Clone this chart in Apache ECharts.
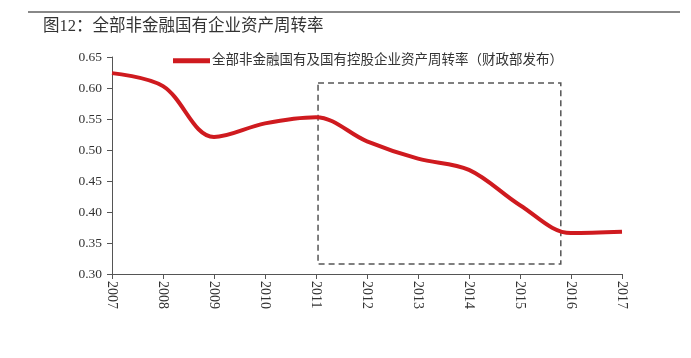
<!DOCTYPE html>
<html>
<head>
<meta charset="utf-8">
<script src="https://cdn.jsdelivr.net/npm/echarts@6/dist/echarts.min.js"></script>
<style>
html,body{margin:0;padding:0;background:#fff;}
#main{width:691px;height:358px;}
</style>
</head>
<body>
<div id="main"></div>
<script>
const years = [2007, 2008, 2009, 2010, 2011, 2012, 2013, 2014, 2015, 2016, 2017];
const turnover = [0.624, 0.603, 0.521, 0.543, 0.553, 0.514, 0.486, 0.468, 0.411, 0.366, 0.368];
const seriesName = '全部非金融国有及国有控股企业资产周转率（财政部发布）';
const titleText = '图12：全部非金融国有企业资产周转率';
const boxX = [2011.04, 2015.8];
const boxY = [0.608, 0.316];

const chart = echarts.init(document.getElementById('main'), null, {renderer: 'canvas'});
const serif = '"Liberation Serif", "DejaVu Serif", serif';
const cjk = '"Liberation Serif", "Noto Sans CJK SC", serif';
chart.setOption({
  backgroundColor: '#ffffff',
  animation: false,
  title: {
    text: titleText,
    left: 38, top: 13,
    textStyle: {fontSize: 16.5, fontWeight: 'normal', color: '#333', fontFamily: cjk}
  },
  graphic: [{
    type: 'line', shape: {x1: 28, y1: 12, x2: 680, y2: 12},
    style: {stroke: '#888', lineWidth: 2}
  }],
  legend: {
    left: 168, top: 49,
    icon: 'rect', itemWidth: 37, itemHeight: 5, itemGap: 2,
    textStyle: {fontSize: 13.5, color: '#333', fontFamily: cjk, padding: [0,0,0,-3]},
    data: [seriesName]
  },
  grid: {left: 112, right: 69, top: 57, bottom: 84},
  xAxis: {
    type: 'value', min: 2007, max: 2017, interval: 1,
    axisLine: {lineStyle: {color: '#555', width: 1}},
    axisTick: {show: true, length: 5, lineStyle: {color: '#555'}},
    axisLabel: {rotate: -90, margin: 7, fontSize: 14, color: '#333', fontFamily: serif,
      formatter: v => String(v)},
    splitLine: {show: false}
  },
  yAxis: {
    type: 'value', min: 0.3, max: 0.65, interval: 0.05,
    axisLine: {show: true, lineStyle: {color: '#555', width: 1}},
    axisTick: {show: true, length: 5, lineStyle: {color: '#555'}},
    axisLabel: {margin: 10, fontSize: 13.5, color: '#333', fontFamily: serif,
      formatter: v => v.toFixed(2)},
    splitLine: {show: false}
  },
  series: [{
    name: seriesName,
    type: 'line',
    data: years.map((y, i) => [y, turnover[i]]),
    smooth: 0.35,
    symbol: 'none',
    lineStyle: {color: '#cf1a1f', width: 4},
    itemStyle: {color: '#cf1a1f'},
    markArea: {
      silent: true,
      itemStyle: {color: 'rgba(0,0,0,0)', borderColor: '#555', borderWidth: 1.5, borderType: [6, 4]},
      data: [[{coord: [boxX[0], boxY[0]]}, {coord: [boxX[1], boxY[1]]}]]
    }
  }]
});
</script>
</body>
</html>
